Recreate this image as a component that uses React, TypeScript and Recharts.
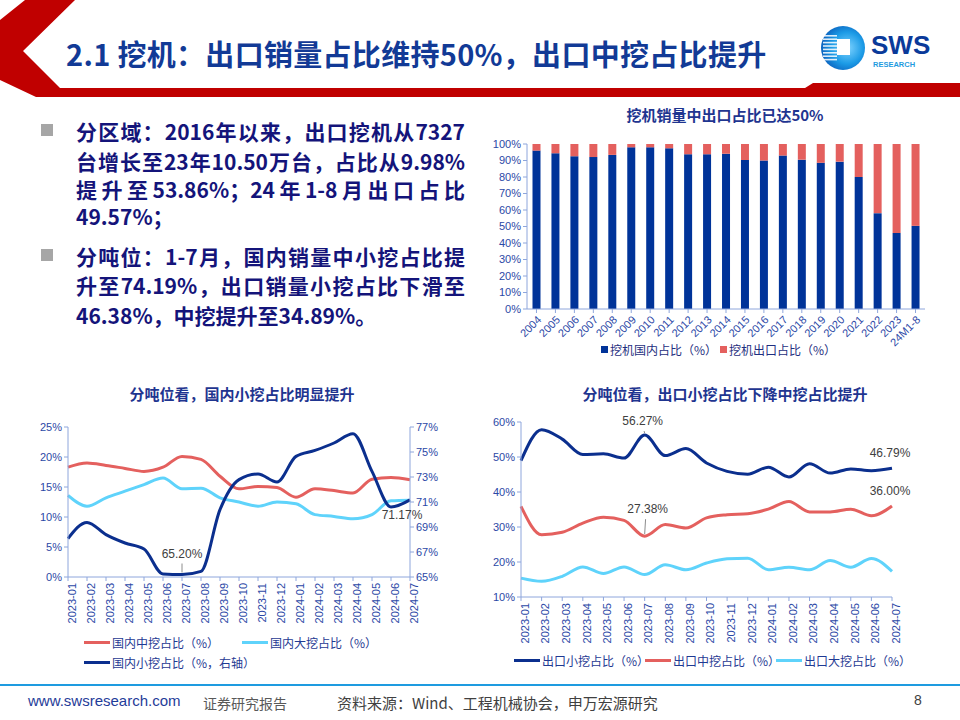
import React from 'react';
import { BarChart, Bar, LineChart, Line, XAxis, YAxis, Legend } from 'recharts';

// 挖机销量：国内 / 出口占比（年度）
const years = ['2004', '2005', '2006', '2007', '2008', '2009', '2010', '2011', '2012', '2013', '2014', '2015', '2016', '2017', '2018', '2019', '2020', '2021', '2022', '2023', '24M1-8'];
const domesticShare = [96.0, 94.4, 92.6, 92.1, 93.4, 98.0, 98.0, 97.4, 93.8, 93.8, 94.1, 90.3, 90.0, 93.0, 90.5, 88.6, 89.3, 80.0, 58.1, 46.1, 50.4];
const exportShare = [4.0, 5.6, 7.4, 7.9, 6.6, 2.0, 2.0, 2.6, 6.2, 6.2, 5.9, 9.7, 10.0, 7.0, 9.5, 11.4, 10.7, 20.0, 41.9, 53.9, 49.6];
const pctTicks = [0, 10, 20, 30, 40, 50, 60, 70, 80, 90, 100];

// 分吨位（月度）
const months = ['2023-01', '2023-02', '2023-03', '2023-04', '2023-05', '2023-06', '2023-07', '2023-08', '2023-09', '2023-10', '2023-11', '2023-12', '2024-01', '2024-02', '2024-03', '2024-04', '2024-05', '2024-06', '2024-07'];
const domMid = [18.3, 19.0, 18.6, 18.1, 17.6, 18.3, 20.1, 19.6, 16.8, 14.7, 15.1, 14.9, 13.3, 14.7, 14.4, 14.0, 16.3, 16.6, 16.2];
const domLarge = [13.6, 11.8, 13.2, 14.3, 15.4, 16.5, 14.7, 14.8, 13.2, 12.5, 11.8, 12.5, 12.2, 10.4, 10.1, 9.7, 10.4, 12.7, 12.8];
const domSmall = [68.07, 69.37, 68.39, 67.72, 67.24, 65.24, 65.20, 65.45, 70.39, 72.79, 73.24, 72.6, 74.65, 75.13, 75.72, 76.47, 73.45, 70.6, 71.17];
const leftTicks = [0, 5, 10, 15, 20, 25];
const rightTicks = [65, 67, 69, 71, 73, 75, 77];

const expSmall = [48.95, 57.8, 55.1, 50.7, 50.9, 49.7, 56.27, 50.4, 52.4, 48.3, 45.9, 45.1, 47.1, 44.3, 48.1, 45.4, 46.6, 46.1, 46.79];
const expMid = [35.9, 27.8, 28.5, 31.1, 32.8, 31.9, 27.38, 30.7, 29.7, 32.6, 33.5, 33.8, 35.1, 37.3, 34.3, 34.3, 35.1, 33.2, 36.0];
const expLarge = [15.4, 14.5, 15.9, 18.6, 16.7, 18.6, 16.4, 19.2, 17.8, 19.7, 20.9, 21.1, 17.8, 18.5, 17.8, 20.4, 18.5, 21.0, 17.3];
const expTicks = [10, 20, 30, 40, 50, 60];

const barData = years.map((y, i) => ({ year: y, dom: domesticShare[i], exp: exportShare[i] }));
const domData = months.map((m, i) => ({ month: m, mid: domMid[i], large: domLarge[i], small: domSmall[i] }));
const expData = months.map((m, i) => ({ month: m, small: expSmall[i], mid: expMid[i], large: expLarge[i] }));

const NAVY = '#0b2f8e';
const RED = '#e4605e';
const LIGHT = '#5fd3fb';
const BAR_BLUE = '#003399';
const AXIS = '#8ea6dc';
const TICK = '#2b48a6';
const FONT = "'Liberation Sans', 'Noto Sans CJK SC', sans-serif";
const CJK = "'Noto Sans CJK SC', 'Liberation Sans', sans-serif";

const tickStyle = { fontSize: 11, fill: TICK, fontFamily: FONT };

// 只在指定点上标注数值，带一根灰色引线
const pointLabel = (spots: Record<number, { dx: number; dy: number; lead?: number }>) => (props: any) => {
  const { x, y, index, value } = props;
  const s = spots[index];
  if (!s) return null;
  return (
    <g key={`lbl-${index}`}>
      {s.lead ? <line x1={x + s.dx * 0.3} y1={y + s.dy + 6} x2={x} y2={y - 2} stroke="#8c8c8c" strokeWidth={1} /> : null}
      <text x={x + s.dx} y={y + s.dy} textAnchor="middle" fontSize={12} fill="#404040" fontFamily={FONT}>
        {Number(value).toFixed(2)}%
      </text>
    </g>
  );
};

const ordered = (payload: any[], order: string[]) =>
  order.map((k) => (payload || []).find((p: any) => p.dataKey === k)).filter(Boolean);

const LineLegend = ({ payload, itemWidth, width, order }: any) => (
  <div style={{ display: 'flex', flexWrap: 'wrap', width, fontFamily: CJK, fontSize: 12, color: '#1f3a93' }}>
    {ordered(payload, order).map((p: any) => (
      <div key={p.value} style={{ width: itemWidth, flex: 'none', display: 'flex', alignItems: 'center', height: 20, whiteSpace: 'nowrap' }}>
        <span style={{ display: 'inline-block', flex: 'none', width: 26, height: 3, background: p.color, marginRight: 2 }} />
        <span>{p.value}</span>
      </div>
    ))}
  </div>
);

const BarLegend = ({ payload }: any) => (
  <div style={{ display: 'flex', fontFamily: CJK, fontSize: 12, color: '#1f2f80' }}>
    {ordered(payload, ['dom', 'exp']).map((p: any) => (
      <div key={p.value} style={{ width: 119, flex: 'none', display: 'flex', alignItems: 'center', whiteSpace: 'nowrap' }}>
        <span style={{ display: 'inline-block', width: 7, height: 7, background: p.color, marginRight: 2 }} />
        <span>{p.value}</span>
      </div>
    ))}
  </div>
);

const bullets = [
  { y: 120, text: '分区域：2016年以来，出口挖机从7327', justify: true },
  { y: 150, text: '台增长至23年10.50万台，占比从9.98%', justify: true },
  { y: 178, text: '提升至53.86%；24年1-8月出口占比', justify: true },
  { y: 205, text: '49.57%；', justify: false },
  { y: 245, text: '分吨位：1-7月，国内销量中小挖占比提', justify: true },
  { y: 274, text: '升至74.19%，出口销量小挖占比下滑至', justify: true },
  { y: 304, text: '46.38%，中挖提升至34.89%。', justify: false },
];

const Logo = () => (
  <svg width={130} height={60} style={{ position: 'absolute', left: 815, top: 18 }}>
    <defs>
      <radialGradient id="lg" cx="0.6" cy="0.5" r="0.6">
        <stop offset="0" stopColor="#7fd3ff" />
        <stop offset="0.6" stopColor="#1c9be6" />
        <stop offset="1" stopColor="#0b62bf" />
      </radialGradient>
    </defs>
    <circle cx={28} cy={30} r={22} fill="url(#lg)" />
    {[0, 1, 2, 3, 4, 5, 6, 7].map((i) => (
      <rect key={i} x={8} y={17 + i * 3.4} width={14} height={1.6} fill="#ffffff" opacity={0.85} />
    ))}
    <rect x={22} y={21} width={13} height={16} fill="#ffffff" />
    <text x={56} y={36} fontSize={26} fontWeight={700} fill="#0a3a9a" fontFamily="'Liberation Sans', sans-serif">SWS</text>
    <text x={58} y={49} fontSize={7.5} fontWeight={700} fill="#1e9be0" fontFamily="'Liberation Sans', sans-serif">RESEARCH</text>
  </svg>
);

export default function App() {
  return (
    <div style={{ position: 'absolute', left: 0, top: 0, width: 960, height: 720, background: '#ffffff', overflow: 'hidden', fontFamily: CJK }}>
      <svg width={960} height={100} style={{ position: 'absolute', left: 0, top: 0 }}>
        <polygon points="25,0 75,0 23,51 60,88 805,88 813,83 960,83 960,97 36,97 0,80 0,20" fill="#c00000" />
      </svg>
      <div style={{ position: 'absolute', left: 66, top: 32, fontSize: 29, fontWeight: 700, color: '#123a96', whiteSpace: 'nowrap', letterSpacing: 0.3 }}>
        2.1 挖机：出口销量占比维持50%，出口中挖占比提升
      </div>
      <Logo />

      {bullets.map((b, i) => (
        <div key={i} style={{ position: 'absolute', left: 76, top: b.y, width: 389, fontSize: 21, lineHeight: '22px', fontWeight: 700, color: '#14147a', whiteSpace: 'nowrap', textAlign: b.justify ? 'justify' : 'left', textAlignLast: b.justify ? 'justify' : 'left' } as any}>
          {b.text}
        </div>
      ))}
      <div style={{ position: 'absolute', left: 41, top: 124, width: 12, height: 12, background: '#a6a6a6' }} />
      <div style={{ position: 'absolute', left: 41, top: 249, width: 12, height: 12, background: '#a6a6a6' }} />

      {/* 右上：柱状图 */}
      <div style={{ position: 'absolute', left: 480, top: 104, width: 490, textAlign: 'center', fontSize: 15, fontWeight: 700, color: '#1f3590' }}>
        挖机销量中出口占比已达50%
      </div>
      <div style={{ position: 'absolute', left: 480, top: 100 }}>
        <BarChart width={460} height={262} data={barData} margin={{ top: 44, right: 15, left: 7, bottom: 0 }} barCategoryGap="29%">
          <XAxis dataKey="year" interval={0} angle={-45} textAnchor="end" height={53} tick={tickStyle} stroke={AXIS} tickSize={4} />
          <YAxis domain={[0, 100]} ticks={pctTicks} interval={0} width={40} tick={tickStyle} stroke={AXIS} tickSize={4} tickFormatter={(v) => `${v}%`} />
          <Bar dataKey="dom" name="挖机国内占比（%）" stackId="a" fill={BAR_BLUE} isAnimationActive={false} />
          <Bar dataKey="exp" name="挖机出口占比（%）" stackId="a" fill={RED} isAnimationActive={false} />
          <Legend layout="horizontal" verticalAlign="middle" align="center" wrapperStyle={{ top: 241, left: 121 }} content={<BarLegend />} />
        </BarChart>
      </div>

      {/* 左下：国内 */}
      <div style={{ position: 'absolute', left: 0, top: 383, width: 484, textAlign: 'center', fontSize: 15, fontWeight: 700, color: '#1f3590' }}>
        分吨位看，国内小挖占比明显提升
      </div>
      <div style={{ position: 'absolute', left: 0, top: 380 }}>
        <LineChart width={480} height={300} data={domData} margin={{ top: 47, right: 30, left: 28, bottom: 53 }}>
          <XAxis dataKey="month" interval={0} angle={-90} textAnchor="end" height={50} tick={tickStyle} stroke={AXIS} tickSize={4} />
          <YAxis yAxisId="l" domain={[0, 25]} ticks={leftTicks} interval={0} width={40} tick={tickStyle} stroke={AXIS} tickSize={4} tickFormatter={(v) => `${v}%`} />
          <YAxis yAxisId="r" orientation="right" domain={[65, 77]} ticks={rightTicks} interval={0} width={40} tick={tickStyle} stroke={AXIS} tickSize={4} tickFormatter={(v) => `${v}%`} />
          <Line yAxisId="l" type="monotone" dataKey="mid" name="国内中挖占比（%）" stroke={RED} strokeWidth={3} dot={false} isAnimationActive={false} />
          <Line yAxisId="l" type="monotone" dataKey="large" name="国内大挖占比（%）" stroke={LIGHT} strokeWidth={3} dot={false} isAnimationActive={false} />
          <Line yAxisId="r" type="monotone" dataKey="small" name="国内小挖占比（%，右轴）" stroke={NAVY} strokeWidth={3} dot={false} isAnimationActive={false}
            label={pointLabel({ 6: { dx: 0, dy: -17, lead: 1 }, 18: { dx: -8, dy: 19 } })} />
          <Legend layout="horizontal" verticalAlign="middle" align="center" wrapperStyle={{ top: 252, left: 84, width: 340 }}
            content={<LineLegend itemWidth={158} width={330} order={['mid', 'large', 'small']} />} />
        </LineChart>
      </div>

      {/* 右下：出口 */}
      <div style={{ position: 'absolute', left: 480, top: 383, width: 490, textAlign: 'center', fontSize: 15, fontWeight: 700, color: '#1f3590' }}>
        分吨位看，出口小挖占比下降中挖占比提升
      </div>
      <div style={{ position: 'absolute', left: 480, top: 380 }}>
        <LineChart width={480} height={300} data={expData} margin={{ top: 42, right: 68, left: 1, bottom: 33 }}>
          <XAxis dataKey="month" interval={0} angle={-90} textAnchor="end" height={50} tick={tickStyle} stroke={AXIS} tickSize={4} />
          <YAxis domain={[10, 60]} ticks={expTicks} interval={0} width={40} tick={tickStyle} stroke={AXIS} tickSize={4} tickFormatter={(v) => `${v}%`} />
          <Line type="monotone" dataKey="small" name="出口小挖占比（%）" stroke={NAVY} strokeWidth={3} dot={false} isAnimationActive={false}
            label={pointLabel({ 6: { dx: -2, dy: -10, lead: 1 }, 18: { dx: -2, dy: -11 } })} />
          <Line type="monotone" dataKey="mid" name="出口中挖占比（%）" stroke={RED} strokeWidth={3} dot={false} isAnimationActive={false}
            label={pointLabel({ 6: { dx: 3, dy: -23, lead: 1 }, 18: { dx: -2, dy: -11 } })} />
          <Line type="monotone" dataKey="large" name="出口大挖占比（%）" stroke={LIGHT} strokeWidth={3} dot={false} isAnimationActive={false} />
          <Legend layout="horizontal" verticalAlign="middle" align="center" wrapperStyle={{ top: 270, left: 34, width: 420 }}
            content={<LineLegend itemWidth={131} width={420} order={['small', 'mid', 'large']} />} />
        </LineChart>
      </div>

      {/* 页脚 */}
      <div style={{ position: 'absolute', left: 0, top: 684, width: 960, height: 2, background: '#1e9be0' }} />
      <div style={{ position: 'absolute', left: 28, top: 692, fontSize: 15, color: '#1f3c99', fontFamily: "'Liberation Sans', sans-serif" }}>www.swsresearch.com</div>
      <div style={{ position: 'absolute', left: 203, top: 693, fontSize: 14, color: '#595959' }}>证券研究报告</div>
      <div style={{ position: 'absolute', left: 337, top: 692, fontSize: 15, color: '#404040' }}>资料来源：Wind、工程机械协会，申万宏源研究</div>
      <div style={{ position: 'absolute', left: 914, top: 692, fontSize: 14, color: '#404040', fontFamily: "'Liberation Sans', sans-serif" }}>8</div>
    </div>
  );
}
